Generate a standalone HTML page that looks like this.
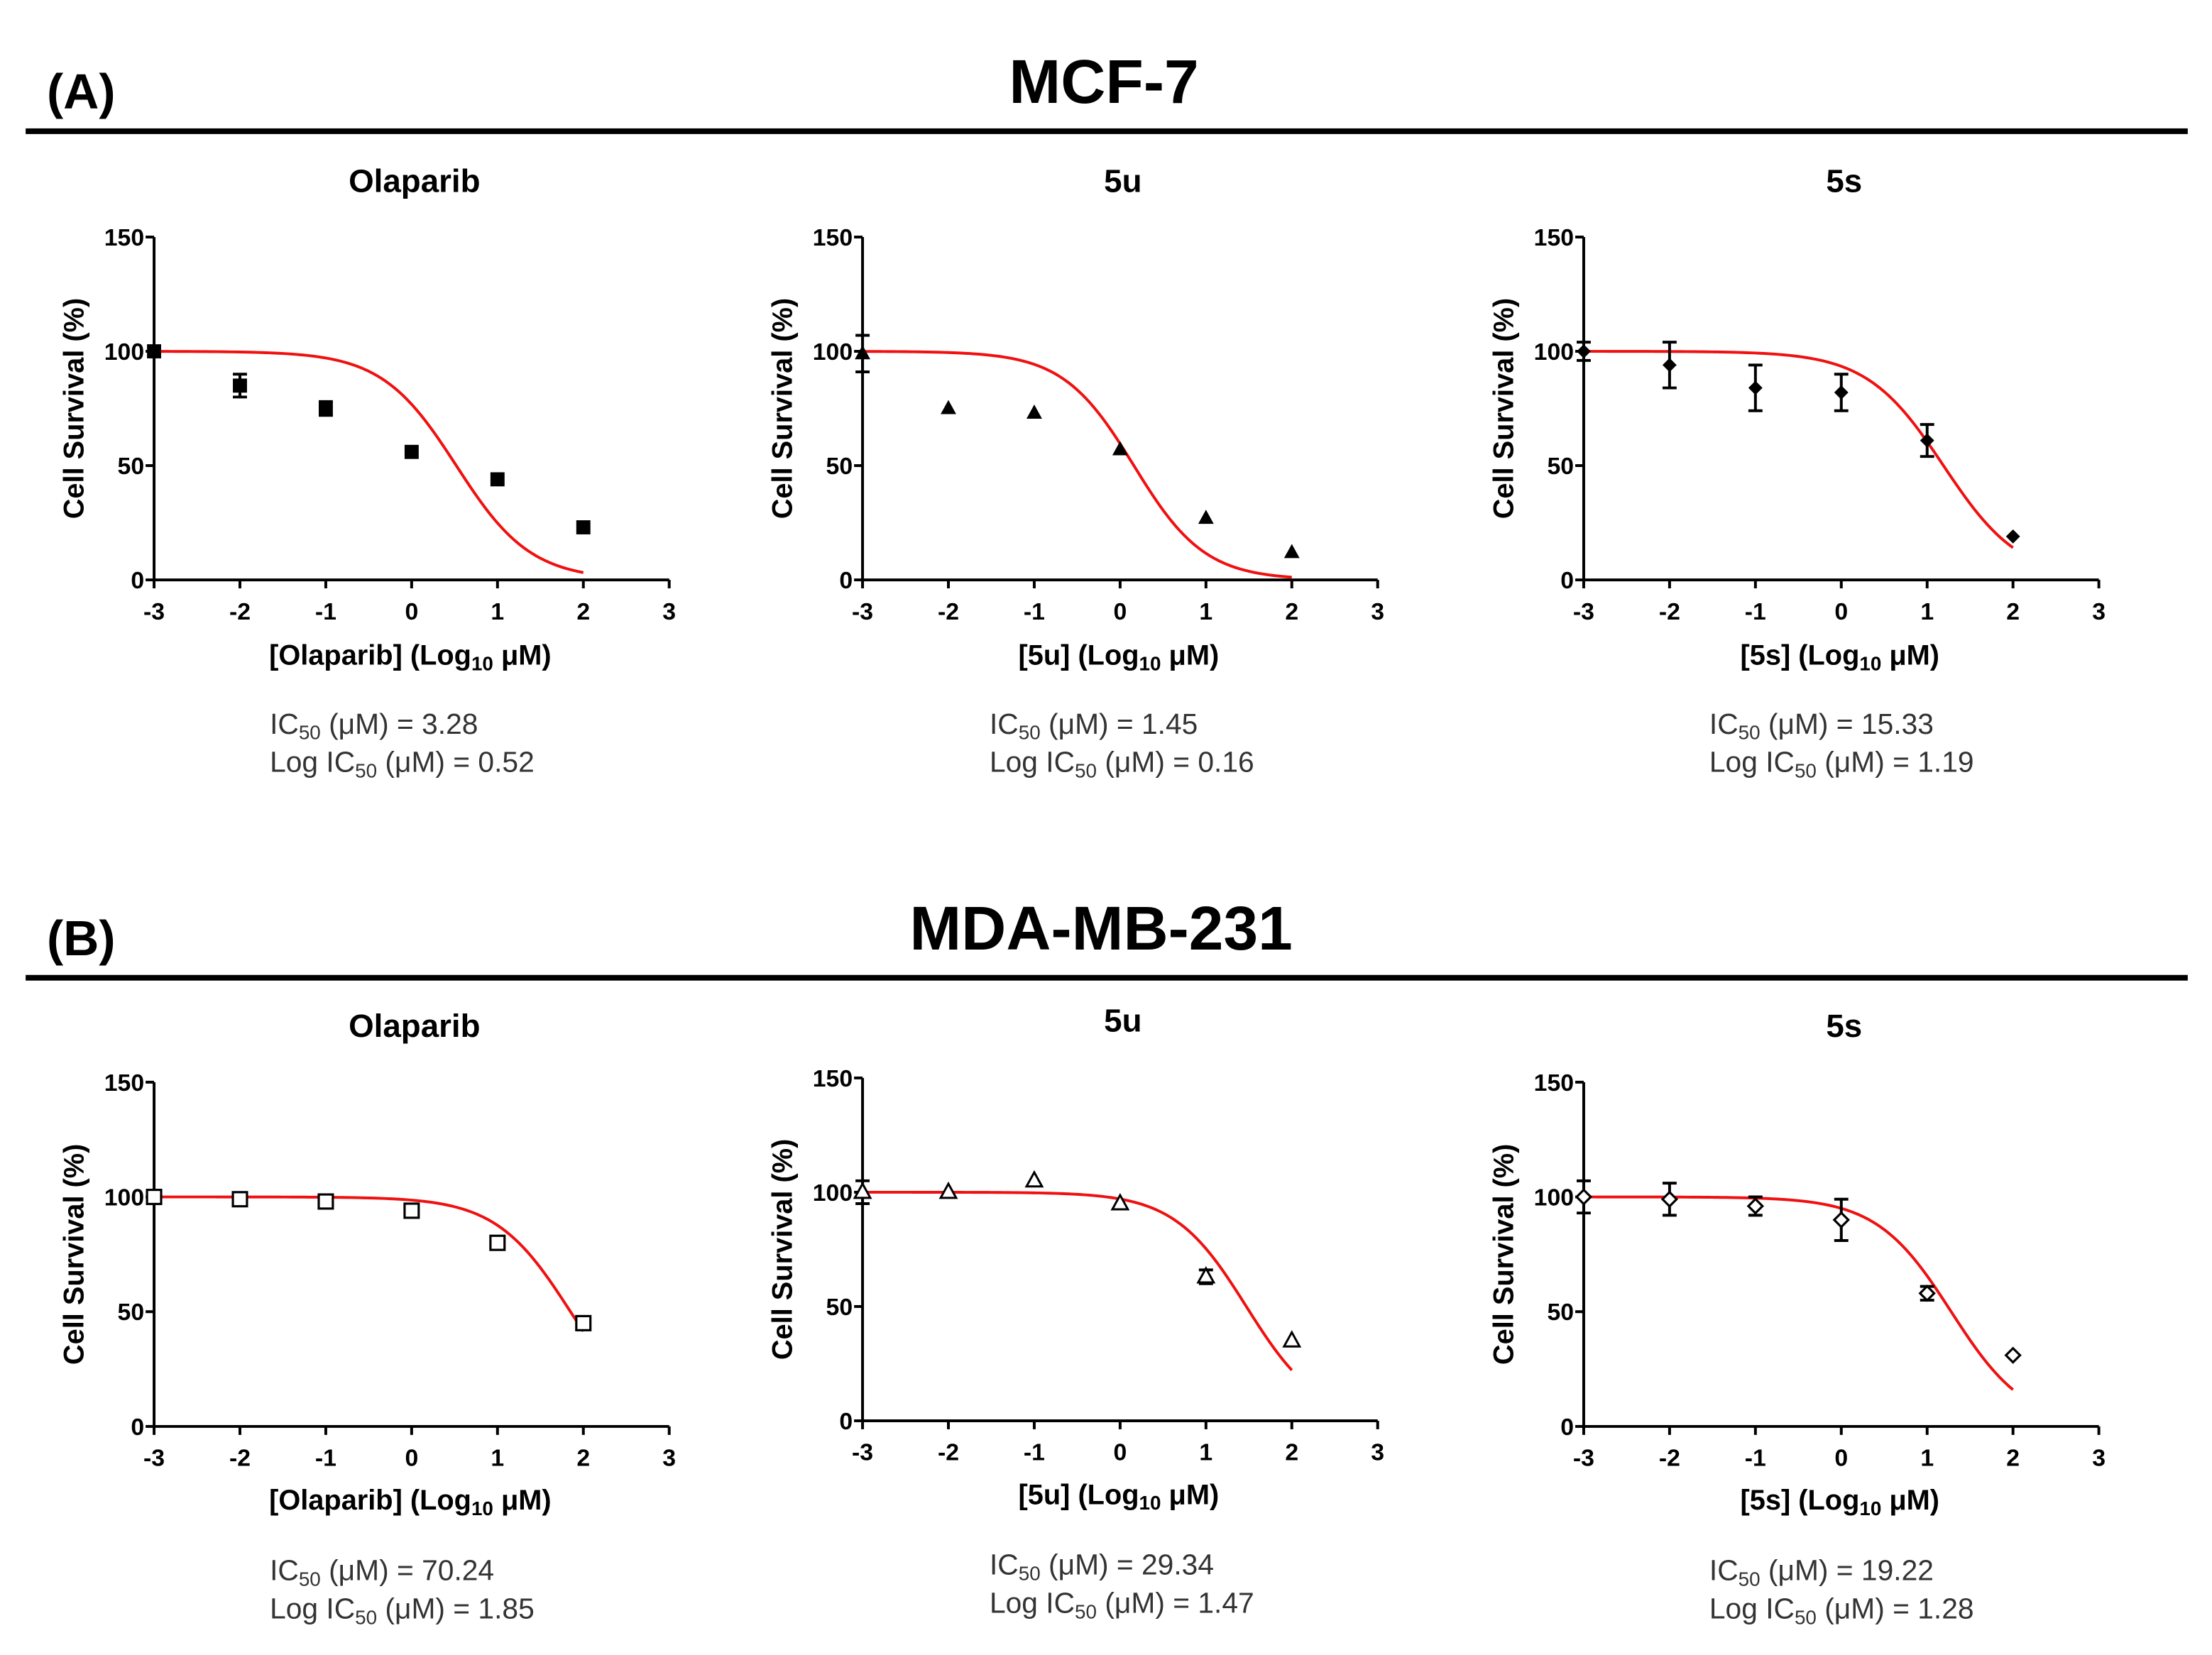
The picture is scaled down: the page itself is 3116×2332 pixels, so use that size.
<!DOCTYPE html>
<html><head><meta charset="utf-8"><style>
html,body{margin:0;padding:0;background:#fff;}
svg{display:block;}
text{font-family:"Liberation Sans",Arial,sans-serif;}
.b{font-weight:bold;fill:#000;}
.ic{fill:#333;font-size:20.5px;}
</style></head><body>
<svg id="fig" width="3116" height="2332" viewBox="0 0 1567 1173" xmlns="http://www.w3.org/2000/svg">
<text class="b" x="33" y="77" font-size="35">(A)</text>
<text class="b" x="782" y="73" font-size="44" text-anchor="middle">MCF-7</text>
<rect x="18" y="91" width="1532" height="4" fill="#000"/>
<text class="b" x="33" y="677" font-size="35">(B)</text>
<text class="b" x="780" y="673" font-size="44" text-anchor="middle">MDA-MB-231</text>
<rect x="18" y="691" width="1532" height="4" fill="#000"/>
<g id="charts"></g>
</svg>
<script>
const xDoses = [-3, -2, -1, 0, 1, 2];
const xTicks = [-3, -2, -1, 0, 1, 2, 3];
const yTicks = [0, 50, 100, 150];
const panelTitles = ["Olaparib", "5u", "5s", "Olaparib", "5u", "5s"];
const drugNames = ["Olaparib", "5u", "5s", "Olaparib", "5u", "5s"];
const icValues = ["3.28", "1.45", "15.33", "70.24", "29.34", "19.22"];
const logIcValues = [0.52, 0.16, 1.19, 1.85, 1.47, 1.28];
const hillSlopes = [1.0, 1.05, 0.97, 1.0, 1.03, 1.0];
const seriesA1 = [100, 85, 75, 56, 44, 23];
const errA1 = [1, 5, 3, 1, 1, 1];
const seriesA2 = [99, 75, 73, 57, 27, 12];
const errA2 = [8, 0, 0, 0, 0, 0];
const seriesA3 = [100, 94, 84, 82, 61, 19];
const errA3 = [4, 10, 10, 8, 7, 0];
const seriesB1 = [100, 99, 98, 94, 80, 45];
const errB1 = [0, 1, 1, 1, 1, 1];
const seriesB2 = [100, 100, 105, 95, 63, 35];
const errB2 = [5, 0, 0, 0, 3, 0];
const seriesB3 = [100, 99, 96, 90, 58, 31];
const errB3 = [7, 7, 4, 9, 3, 0];
const allSeries = [seriesA1, seriesA2, seriesA3, seriesB1, seriesB2, seriesB3];
const allErr = [errA1, errA2, errA3, errB1, errB2, errB3];
const markers = ["square", "triangle", "diamond", "osquare", "otriangle", "odiamond"];

const layouts = [
 {x0:109,x1:474,yt:168,yb:411,title:128,axl:464,ic:513,icx:191},
 {x0:611,x1:976,yt:168,yb:411,title:128,axl:464,ic:513,icx:701},
 {x0:1122,x1:1487,yt:168,yb:411,title:128,axl:464,ic:513,icx:1211},
 {x0:109,x1:474,yt:767,yb:1011,title:727,axl:1063,ic:1113,icx:191},
 {x0:611,x1:976,yt:764,yb:1007,title:723,axl:1059,ic:1109,icx:701},
 {x0:1122,x1:1487,yt:767,yb:1011,title:727,axl:1063,ic:1113,icx:1211}
];
const NS = "http://www.w3.org/2000/svg";
const root = document.getElementById("charts");
function mk(tag, attrs, parent, txt){
  const e = document.createElementNS(NS, tag);
  for (const k in attrs) e.setAttribute(k, attrs[k]);
  if (txt !== undefined) e.textContent = txt;
  parent.appendChild(e); return e;
}
layouts.forEach((L, i) => {
  const g = mk("g", {}, root);
  
  
  const sx = v => L.x0 + (v + 3) / 6 * (L.x1 - L.x0);
  const sy = v => L.yb - v / 150 * (L.yb - L.yt);
  const cx = (L.x0 + L.x1) / 2;
  const t = mk("text", {x: cx + 2, y: L.title + 8, "font-size": 23, "text-anchor": "middle", class: "b"}, g, panelTitles[i]);
  
  
  const ax = mk("path", {d: `M${L.x0},${L.yt} V${L.yb} H${L.x1}`, stroke: "#000", "stroke-width": 2, fill: "none"}, g);
  
  
  yTicks.forEach(v => {
    mk("line", {x1: L.x0 - 6, x2: L.x0, y1: sy(v), y2: sy(v), stroke: "#000", "stroke-width": 2}, g);
    const tl = mk("text", {x: L.x0 - 7, y: sy(v) + 6, "font-size": 17, "text-anchor": "end", class: "b"}, g, String(v));
    
    
  });
  xTicks.forEach(v => {
    mk("line", {x1: sx(v), x2: sx(v), y1: L.yb, y2: L.yb + 6, stroke: "#000", "stroke-width": 2}, g);
    const tl = mk("text", {x: sx(v), y: L.yb + 28, "font-size": 17, "text-anchor": "middle", class: "b"}, g, String(v));
    
    
  });
  const yl = mk("text", {x: 0, y: 0, "font-size": 20, "text-anchor": "middle", class: "b",
    transform: `translate(${L.x0 - 50},${(L.yt + L.yb) / 2}) rotate(-90)`}, g, "Cell Survival (%)");
  
  
  const xl = mk("text", {x: cx - 1, y: L.axl + 7, "font-size": 20, "text-anchor": "middle", class: "b"}, g);
  
  
  mk("tspan", {}, xl, "[" + drugNames[i] + "] (Log");
  mk("tspan", {"font-size": 14, dy: 4}, xl, "10");
  mk("tspan", {dy: -4}, xl, " \u03bcM)");
  let d = "";
  for (let k = 0; k <= 100; k++) {
    const x = -3 + 5 * k / 100;
    const y = 100 / (1 + Math.pow(10, (x - logIcValues[i]) * hillSlopes[i]));
    d += (k ? "L" : "M") + sx(x).toFixed(2) + "," + sy(y).toFixed(2);
  }
  const cv = mk("path", {d, stroke: "#f01010", "stroke-width": 2, fill: "none"}, g);
  
  
  const s = allSeries[i], er = allErr[i], m = markers[i];
  xDoses.forEach((xv, j) => {
    const px = sx(xv), py = sy(s[j]);
    if (er[j] > 1.5) {
      const e1 = sy(s[j] + er[j]), e2 = sy(s[j] - er[j]);
      const eb = mk("path", {d: `M${px},${e1}V${e2}M${px-5},${e1}H${px+5}M${px-5},${e2}H${px+5}`, stroke: "#000", "stroke-width": 2, fill: "none"}, g);
      
      
    }
    let p;
    const open = m[0] === "o";
    const fill = open ? "#fff" : "#000";
    if (m.endsWith("square")) p = mk("rect", {x: px - 5, y: py - 5, width: 10, height: 10, fill, stroke: "#000", "stroke-width": open ? 1.6 : 0}, g);
    else if (m.endsWith("triangle")) p = mk("path", {d: `M${px},${py-6}L${px+5.5},${py+4}L${px-5.5},${py+4}Z`, fill, stroke: "#000", "stroke-width": open ? 1.5 : 0}, g);
    else p = mk("path", {d: `M${px},${py-5}L${px+5},${py}L${px},${py+5}L${px-5},${py}Z`, fill, stroke: "#000", "stroke-width": open ? 1.6 : 0}, g);
    
    
  });
  const ic1 = mk("text", {x: L.icx, y: L.ic + 7, class: "ic"}, g);
  
  
  mk("tspan", {}, ic1, "IC");
  mk("tspan", {"font-size": 14, dy: 4}, ic1, "50");
  mk("tspan", {dy: -4}, ic1, " (\u03bcM) = " + icValues[i]);
  const ic2 = mk("text", {x: L.icx, y: L.ic + 34, class: "ic"}, g);
  
  
  mk("tspan", {}, ic2, "Log IC");
  mk("tspan", {"font-size": 14, dy: 4}, ic2, "50");
  mk("tspan", {dy: -4}, ic2, " (\u03bcM) = " + logIcValues[i].toFixed(2));
});
</script>
</body></html>
